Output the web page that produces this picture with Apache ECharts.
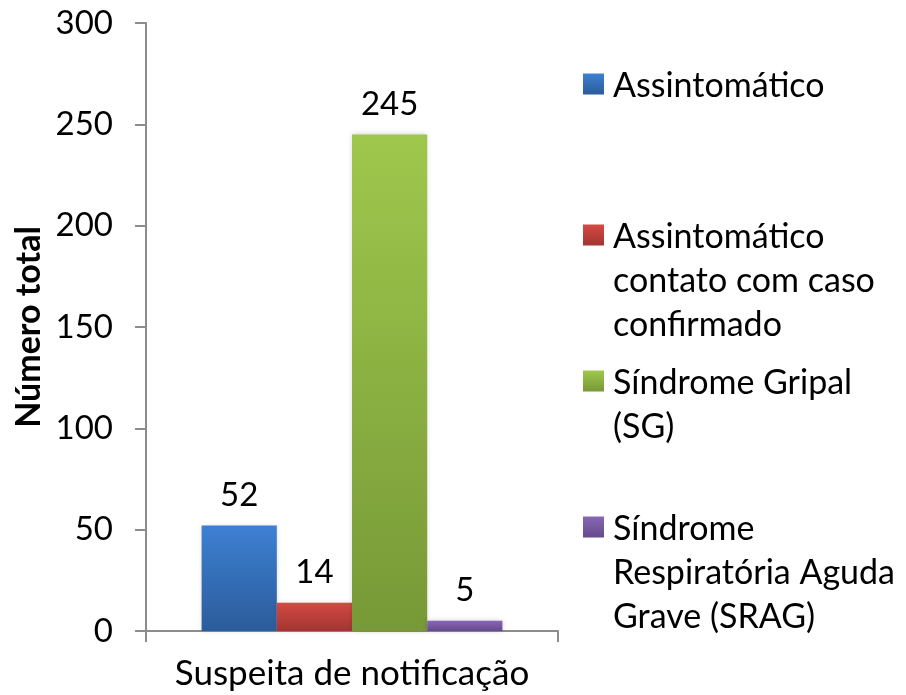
<!DOCTYPE html>
<html>
<head>
<meta charset="utf-8">
<script src="https://cdn.jsdelivr.net/npm/echarts@6/dist/echarts.min.js"></script>
<style>
  html, body { margin: 0; padding: 0; background: #fff; }
  #main { width: 906px; height: 695px; }
</style>
</head>
<body>
<div id="main"></div>
<script>
var categories = ["Suspeita de notificação"];
var seriesNames = [
  "Assintomático",
  "Assintomático\ncontato com caso\nconfirmado",
  "Síndrome Gripal\n(SG)",
  "Síndrome\nRespiratória Aguda\nGrave (SRAG)"
];
var values = [52, 14, 245, 5];
var yTicks = [0, 50, 100, 150, 200, 250, 300];

// top / bottom colours of the excel-like gradient
var colors = [
  ["#3d80d2", "#2b5c9b"],
  ["#d44a43", "#a23432"],
  ["#9fc74c", "#779937"],
  ["#8866b6", "#654a8b"]
];
var legendTops = [64, 215, 361, 507];

var chart = echarts.init(document.getElementById("main"));
var font = "Lato";
var LH = 44;
var SQ = 21;

function grad(c, y0, y1) {
  return new echarts.graphic.LinearGradient(0, y0 || 0, 0, y1 == null ? 1 : y1, [
    { offset: 0, color: c[0] },
    { offset: 1, color: c[1] }
  ]);
}

var series = seriesNames.map(function (name, i) {
  return {
    name: name,
    type: "bar",
    data: [values[i]],
    barGap: 0,
    barCategoryGap: "27%",
    itemStyle: {
      color: grad(colors[i]),
      shadowColor: "rgba(0,0,0,0.18)",
      shadowBlur: 5
    },
    label: {
      show: true,
      position: "top",
      distance: 14,
      fontFamily: font,
      fontSize: 33,
      color: "#000"
    }
  };
});

// icon square sits beside the first text line, not the middle of the block
var legends = seriesNames.map(function (name, i) {
  var n = name.split("\n").length;
  var h = n * LH;
  var s0 = LH / 2 - SQ / 2 - 2;
  var path = "path://M0,0L0.01,0M0," + h + "L0.01," + h +
    "M0," + s0 + "H" + SQ + "V" + (s0 + SQ) + "H0Z";
  return {
    data: [{ name: name, icon: path, itemStyle: { color: grad(colors[i], s0 / h, (s0 + SQ) / h) } }],
    left: 583,
    top: legendTops[i],
    padding: 0,
    itemWidth: SQ,
    itemHeight: h,
    selectedMode: false,
    textStyle: {
      fontFamily: font,
      fontSize: 34,
      lineHeight: LH,
      color: "#000",
      padding: [0, 0, 0, 4]
    }
  };
});

var option = {
  animation: false,
  textStyle: { fontFamily: font },
  legend: legends,
  grid: { left: 146, top: 23, right: 348, bottom: 64 },
  xAxis: {
    type: "category",
    data: categories,
    axisLine: { lineStyle: { color: "#8c8c8c", width: 2 } },
    axisTick: { show: true, length: 11, lineStyle: { color: "#8c8c8c", width: 2 } },
    axisLabel: { fontFamily: font, fontSize: 35, color: "#000", margin: 25 }
  },
  yAxis: {
    type: "value",
    min: yTicks[0],
    max: yTicks[yTicks.length - 1],
    interval: 50,
    name: "Número total",
    nameLocation: "middle",
    nameGap: 100,
    nameTextStyle: { fontFamily: font, fontSize: 34, fontWeight: "bold", color: "#000" },
    axisLine: { show: true, lineStyle: { color: "#8c8c8c", width: 2 } },
    axisTick: { show: true, length: 11, lineStyle: { color: "#8c8c8c", width: 2 } },
    splitLine: { show: false },
    axisLabel: { fontFamily: font, fontSize: 33, color: "#000", margin: 33 }
  },
  series: series
};
chart.setOption(option);
</script>
</body>
</html>
